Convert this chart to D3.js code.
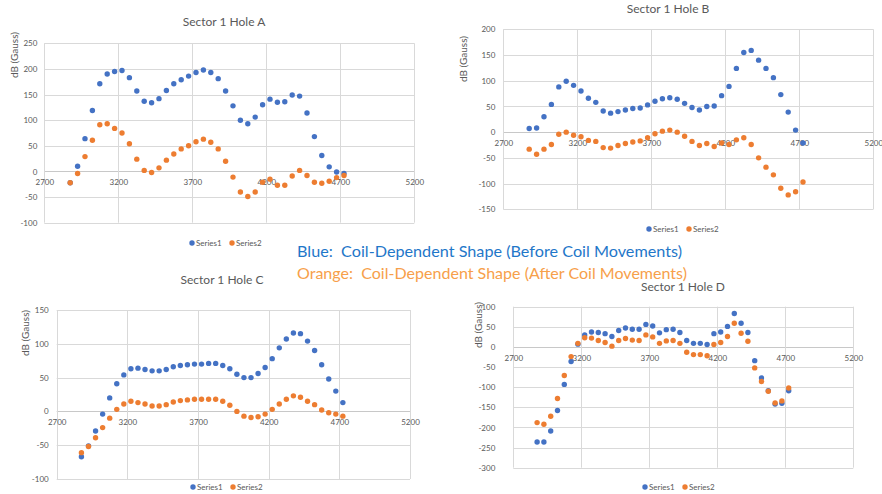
<!DOCTYPE html>
<html>
<head>
<meta charset="utf-8">
<script src="https://cdn.jsdelivr.net/npm/d3@7"></script>
<style>
  body { margin: 0; background: #fff; }
  svg { display: block; }
  text { font-family: Lato, "Open Sans", sans-serif; }
</style>
</head>
<body>
<svg id="chart" width="882" height="494"></svg>
<script>

// position along the hole (same for every panel)
var positions = [2875, 2925, 2975, 3025, 3075, 3125, 3175, 3225, 3275, 3325,
                 3375, 3425, 3475, 3525, 3575, 3625, 3675, 3725, 3775, 3825,
                 3875, 3925, 3975, 4025, 4075, 4125, 4175, 4225, 4275, 4325,
                 4375, 4425, 4475, 4525, 4575, 4625, 4675, 4725]

var holeA_series1 = [-22, 10, 64, 119, 171, 190, 195, 197, 183, 157, 137, 134, 142, 158, 171, 179, 186, 193, 198, 193,
                     181, 157, 128, 100, 93, 106, 130, 141, 135, 136, 149, 147, 114, 68, 31, 9, -1, -4]
var holeA_series2 = [-22, -4, 29, 61, 91, 93, 84, 75, 54, 24, 2, -2, 7, 22, 34, 44, 50, 58, 63, 57,
                     44, 20, -11, -40, -49, -40, -21, -15, -27, -27, -9, 2, -8, -21, -23, -19, -12, -8]

var holeB_series1 = [7, 8, 30, 54, 88, 99, 91, 80, 66, 58, 41, 37, 40, 43, 46, 47, 53, 60, 65, 67,
                     64, 56, 48, 43, 50, 51, 71, 89, 124, 155, 159, 140, 124, 106, 73, 39, 4, -21]
var holeB_series2 = [-33, -43, -33, -24, -4, 0, -6, -9, -16, -18, -30, -31, -26, -22, -19, -17, -11, -3, 2, 4,
                     0, -8, -18, -26, -22, -28, -21, -24, -15, -11, -24, -50, -68, -83, -109, -122, -116, -97]

var holeC_series1 = [-67, -51, -29, -4, 20, 41, 54, 63, 64, 62, 60, 60, 62, 66, 68, 69, 70, 70, 71, 71,
                     68, 63, 55, 50, 50, 56, 65, 78, 94, 107, 116, 115, 104, 90, 69, 48, 30, 13]
var holeC_series2 = [-61, -52, -39, -24, -10, 3, 11, 15, 13, 11, 8, 8, 10, 14, 16, 17, 18, 18, 18, 18,
                     15, 9, 0, -7, -9, -8, -4, 3, 11, 18, 23, 21, 15, 10, 2, -2, -4, -7]

var holeD_series1 = [-236, -236, -209, -158, -93, -36, 7, 30, 37, 36, 33, 26, 41, 47, 44, 44, 56, 52, 35, 43,
                     44, 36, 16, 9, 9, 6, 33, 37, 51, 83, 59, 36, -34, -77, -109, -142, -140, -109]
var holeD_series2 = [-188, -192, -172, -128, -71, -24, 9, 23, 22, 16, 11, 2, 16, 21, 17, 16, 30, 25, 9, 15,
                     16, 9, -13, -19, -19, -22, 6, 11, 26, 59, 34, 14, -52, -86, -110, -139, -134, -102]

var xTicks = [2700, 3200, 3700, 4200, 4700, 5200]
var yTicksA = [-100, -50, 0, 50, 100, 150, 200, 250]
var yTicksB = [-150, -100, -50, 0, 50, 100, 150, 200]
var yTicksC = [-100, -50, 0, 50, 100, 150]
var yTicksD = [-300, -250, -200, -150, -100, -50, 0, 50, 100]

var titles = ["Sector 1 Hole A", "Sector 1 Hole B", "Sector 1 Hole C", "Sector 1 Hole D"]
var seriesNames = ["Series1", "Series2"]
var yTitle = "dB (Gauss)"
var noteLines = ["Blue:  Coil-Dependent Shape (Before Coil Movements)",
                 "Orange:  Coil-Dependent Shape (After Coil Movements)"]

var blue = "#4472C4", orange = "#ED7D31", grey = "#595959", grid = "#d9d9d9"

// layout of each panel on the page
var panels = [
    { title: titles[0], s1: holeA_series1, s2: holeA_series2, yTicks: yTicksA,
      left: 44.3, right: 414.3, top: 43.3, bottom: 222.7, pad: 7,
      titleX: 224, titleY: 26, labX: 14, labY: 55, legX: 192, legY: 243 },
    { title: titles[1], s1: holeB_series1, s2: holeB_series2, yTicks: yTicksB,
      left: 503.3, right: 873.3, top: 29.3, bottom: 209.3, pad: 8,
      titleX: 668, titleY: 13, labX: 463, labY: 59, legX: 649, legY: 229 },
    { title: titles[2], s1: holeC_series1, s2: holeC_series2, yTicks: yTicksC,
      left: 56.7, right: 410, top: 310, bottom: 479, pad: 8,
      titleX: 222, titleY: 284, labX: 25, labY: 333, legX: 193, legY: 487 },
    { title: titles[3], s1: holeD_series1, s2: holeD_series2, yTicks: yTicksD,
      left: 513.3, right: 853.3, top: 306.7, bottom: 467.7, pad: 18,
      titleX: 683, titleY: 291, labX: 478, labY: 325, legX: 645, legY: 487 }
]

var svg = d3.select("#chart")

panels.forEach(function (p) {

    var xScale = d3.scaleLinear()
        .domain([xTicks[0], xTicks[xTicks.length - 1]])
        .range([p.left, p.right])

    var yScale = d3.scaleLinear()
        .domain([p.yTicks[0], p.yTicks[p.yTicks.length - 1]])
        .range([p.bottom, p.top])

    var g = svg.append("g")

    // gridlines
    g.append("g")
        .selectAll("line.h")
        .data(p.yTicks)
        .enter()
        .append("line")
        .attr("x1", p.left).attr("x2", p.right)
        .attr("y1", function (d) { return Math.round(yScale(d)) + 0.5 })
        .attr("y2", function (d) { return Math.round(yScale(d)) + 0.5 })
        .attr("stroke", function (d) { return d === 0 ? "#c8c8c8" : grid })
        .attr("stroke-width", 1)

    g.append("g")
        .selectAll("line.v")
        .data(xTicks)
        .enter()
        .append("line")
        .attr("y1", p.top).attr("y2", p.bottom)
        .attr("x1", function (d) { return Math.round(xScale(d)) + 0.5 })
        .attr("x2", function (d) { return Math.round(xScale(d)) + 0.5 })
        .attr("stroke", grid)
        .attr("stroke-width", 1)

    // y tick labels
    var yAxis = d3.axisLeft(yScale)
        .tickValues(p.yTicks)
        .tickSize(0)
        .tickPadding(p.pad)
        .tickFormat(function (d) { return String(d) })

    var ya = g.append("g")
        .attr("transform", "translate(" + p.left + ",0)")
        .call(yAxis)
    ya.select(".domain").remove()
    ya.selectAll("text").attr("fill", grey).style("font-size", "8px").style("font-family", "Lato, 'Open Sans', sans-serif")

    // x tick labels sit on the zero line
    var xAxis = d3.axisBottom(xScale)
        .tickValues(xTicks)
        .tickSize(0)
        .tickPadding(8)
        .tickFormat(function (d) { return String(d) })

    var xa = g.append("g")
        .attr("transform", "translate(0," + yScale(0) + ")")
        .call(xAxis)
    xa.select(".domain").remove()
    xa.selectAll("text").attr("fill", grey).style("font-size", "8px").style("font-family", "Lato, 'Open Sans', sans-serif")

    // points, series2 drawn over series1
    ;[[p.s1, blue], [p.s2, orange]].forEach(function (s) {
        g.append("g")
            .selectAll("circle")
            .data(s[0])
            .enter()
            .append("circle")
            .attr("cx", function (d, i) { return xScale(positions[i]) })
            .attr("cy", function (d) { return yScale(d) })
            .attr("r", 2.7)
            .attr("fill", s[1])
    })

    // title
    g.append("text")
        .attr("x", p.titleX)
        .attr("y", p.titleY)
        .attr("text-anchor", "middle")
        .attr("fill", grey)
        .style("font-size", "12px")
        .text(p.title)

    // y axis title
    g.append("text")
        .attr("transform", "translate(" + p.labX + "," + p.labY + ") rotate(-90)")
        .attr("text-anchor", "middle")
        .attr("dy", "0.35em")
        .attr("fill", grey)
        .style("font-size", "10px")
        .text(yTitle)

    // legend
    var leg = g.append("g")
        .attr("transform", "translate(" + p.legX + "," + p.legY + ")")
    seriesNames.forEach(function (name, i) {
        leg.append("circle")
            .attr("cx", i * 40)
            .attr("cy", 0)
            .attr("r", 2.7)
            .attr("fill", i === 0 ? blue : orange)
        leg.append("text")
            .attr("x", i * 40 + 4)
            .attr("y", 0)
            .attr("dy", "0.35em")
            .attr("fill", grey)
            .style("font-size", "8px")
            .text(name)
    })
})

// note in the middle
svg.append("text")
    .attr("x", 297)
    .attr("y", 257)
    .attr("fill", "#1F77C9")
    .attr("textLength", 385)
    .attr("lengthAdjust", "spacingAndGlyphs")
    .style("font-size", "16px")
    .style("white-space", "pre")
    .text(noteLines[0])

svg.append("text")
    .attr("x", 297)
    .attr("y", 279)
    .attr("fill", "#F7A04A")
    .attr("textLength", 390)
    .attr("lengthAdjust", "spacingAndGlyphs")
    .style("font-size", "16px")
    .style("white-space", "pre")
    .text(noteLines[1])

</script>
</body>
</html>
